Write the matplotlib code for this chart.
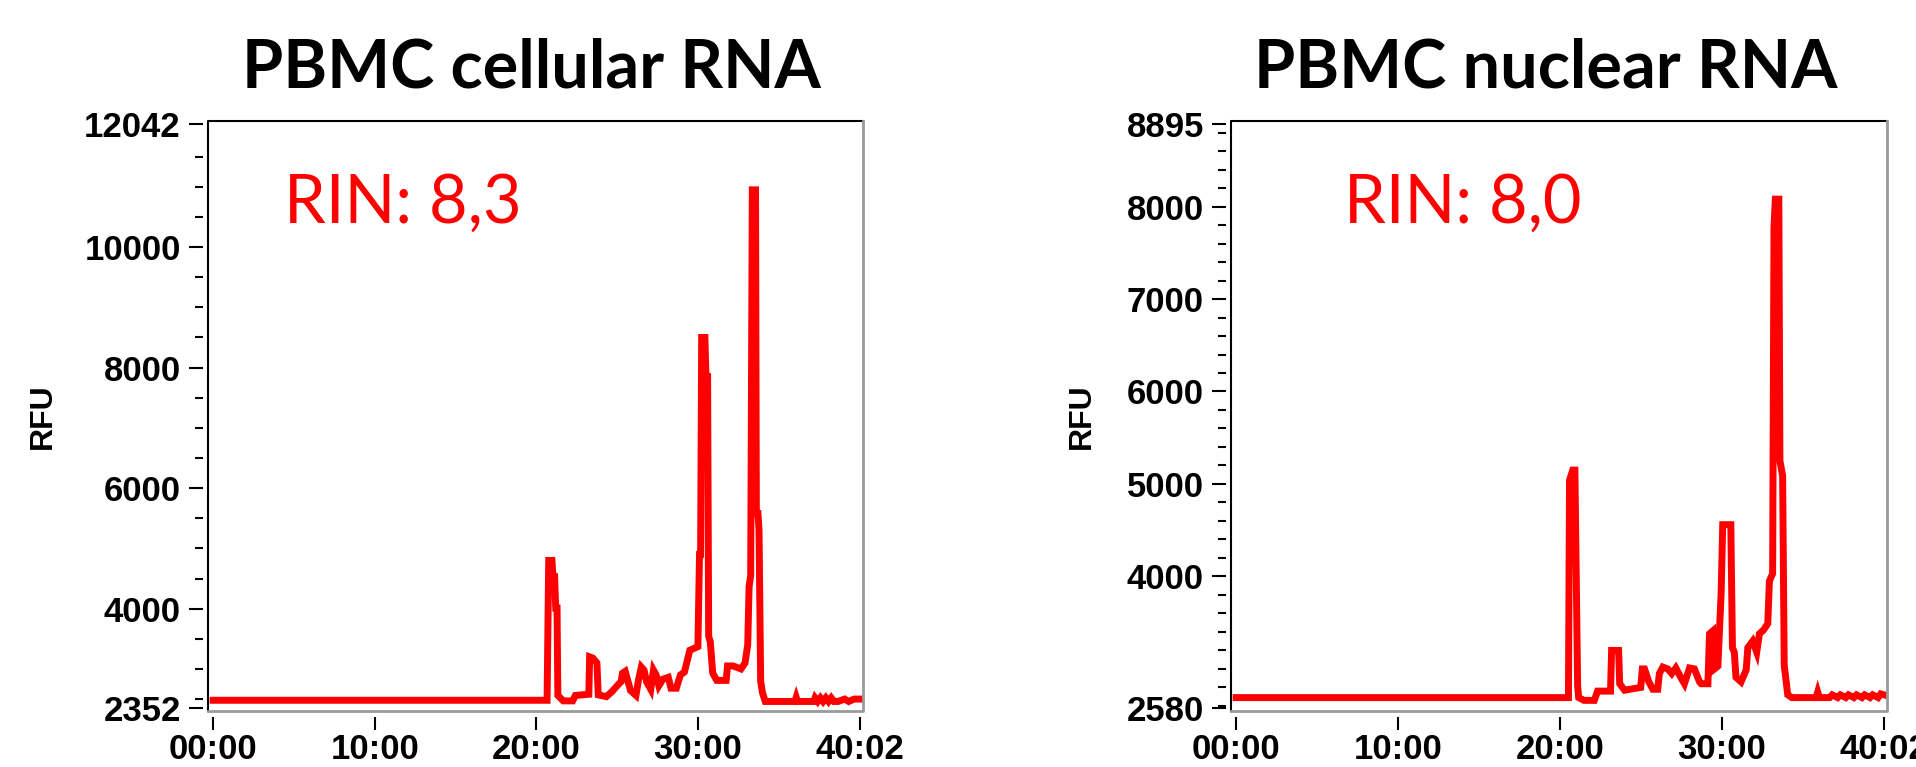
import matplotlib
matplotlib.use('Agg')
import matplotlib.pyplot as plt
from matplotlib.ticker import FixedLocator, FixedFormatter

# Electropherogram traces (time in seconds, RFU)
cell_time = [0, 1240, 1246, 1258, 1262, 1268, 1272, 1277, 1280, 1300, 1335, 1345, 1395,
             1398, 1410, 1425, 1430, 1460, 1480, 1500, 1515, 1520, 1530, 1540, 1550,
             1570, 1580, 1590, 1600, 1610, 1625, 1635, 1645, 1655, 1670, 1690, 1700,
             1720, 1735, 1750, 1770, 1800, 1806, 1810, 1814, 1826, 1830, 1836, 1840,
             1846, 1855, 1870, 1905, 1910, 1930, 1960, 1975, 1985, 1990, 1996, 2002,
             2014, 2017, 2023, 2027, 2033, 2040, 2050, 2160, 2165, 2170, 2230, 2235,
             2245, 2255, 2265, 2275, 2285, 2295, 2305, 2320, 2345, 2360, 2380, 2402]
cell_rfu = [2480, 2480, 4800, 4800, 4530, 4530, 4010, 4010, 2560, 2470, 2470, 2560, 2580,
            3200, 3180, 3100, 2570, 2540, 2620, 2720, 2790, 2930, 2960, 2800, 2640,
            2560, 2830, 3030, 2980, 2780, 2660, 2980, 2900, 2720, 2830, 2860, 2680,
            2680, 2900, 2950, 3310, 3370, 4900, 4900, 8500, 8500, 7850, 7850, 3540,
            3450, 2930, 2810, 2810, 3050, 3050, 3000, 3100, 3400, 4360, 4550, 10950,
            10950, 5580, 5580, 5300, 2800, 2600, 2460, 2460, 2530, 2460, 2460, 2520,
            2460, 2520, 2460, 2520, 2460, 2520, 2460, 2460, 2500, 2460, 2500, 2500]

nuc_time = [0, 1232, 1236, 1248, 1256, 1266, 1270, 1290, 1328, 1340, 1388, 1392, 1418,
            1422, 1440, 1480, 1500, 1506, 1514, 1530, 1545, 1563, 1569, 1582, 1600,
            1615, 1630, 1650, 1662, 1681, 1699, 1718, 1724, 1749, 1755, 1767, 1773,
            1786, 1798, 1804, 1834, 1840, 1847, 1853, 1872, 1891, 1897, 1915, 1930,
            1940, 1955, 1971, 1977, 1989, 1994, 1999, 2012, 2016, 2026, 2032, 2045,
            2060, 2150, 2156, 2162, 2200, 2210, 2230, 2240, 2260, 2270, 2290, 2300,
            2320, 2330, 2350, 2360, 2380, 2390, 2402]
nuc_rfu = [2690, 2690, 5040, 5150, 5150, 2820, 2690, 2660, 2660, 2760, 2760, 3200, 3200,
           2840, 2770, 2790, 2800, 3000, 3000, 2860, 2780, 2780, 2950, 3020, 3000,
           2950, 3010, 2900, 2840, 3010, 3000, 2860, 2840, 2840, 3380, 3410, 3000,
           3030, 3810, 4560, 4560, 3230, 3180, 2910, 2860, 2990, 3230, 3300, 3180,
           3380, 3420, 3490, 3950, 4030, 7770, 8080, 8080, 5250, 5090, 3040, 2720,
           2690, 2690, 2750, 2690, 2690, 2720, 2690, 2720, 2690, 2720, 2690, 2720,
           2690, 2720, 2690, 2720, 2690, 2730, 2720]

cell_yticks = [2352, 4000, 6000, 8000, 10000, 12042]
cell_yminor = [2500, 3000, 3500, 4500, 5000, 5500, 6500, 7000, 7500, 8500, 9000, 9500,
               10500, 11000, 11500]
nuc_yticks = [2580, 4000, 5000, 6000, 7000, 8000, 8895]
nuc_yminor = [v for v in range(2600, 8900, 200) if v not in (4000, 6000, 8000)]

x_ticks = [0, 600, 1200, 1800, 2402]
x_labels = ['00:00', '10:00', '20:00', '30:00', '40:02']

titles = ['PBMC cellular RNA', 'PBMC nuclear RNA']
rin_labels = ['RIN: 8,3', 'RIN: 8,0']

W, H = 1916, 767
fig = plt.figure(figsize=(W / 100, H / 100), dpi=100)

tick_font = dict(family='Liberation Sans', weight='bold', size=25)

panels = [
    dict(box=(208, 121, 863, 711), t=cell_time, v=cell_rfu, yt=cell_yticks, ym=cell_yminor,
         ylim=(2302, 12092), title_x=531, rin_x=284, rfu_x=43),
    dict(box=(1231, 121, 1887, 711), t=nuc_time, v=nuc_rfu, yt=nuc_yticks, ym=nuc_yminor,
         ylim=(2545, 8925), title_x=1546, rin_x=1344, rfu_x=1082),
]

for i, p in enumerate(panels):
    x0, y0, x1, y1 = p['box']
    ax = fig.add_axes([x0 / W, 1 - y1 / H, (x1 - x0) / W, (y1 - y0) / H])
    ax.plot(p['t'], p['v'], color='#ff0000', lw=5, solid_joinstyle='miter')
    ax.set_xlim(-19, 2413)
    ax.set_ylim(*p['ylim'])

    # detached ticks: offset invisible spines, draw the frame by hand
    for side in ['left', 'bottom', 'right', 'top']:
        ax.spines[side].set_visible(False)
    ax.spines['left'].set_position(('outward', 3.6))
    ax.spines['bottom'].set_position(('outward', 4.3))
    ax.plot([0, 0, 1], [0, 1, 1], color='black', lw=1.5, transform=ax.transAxes, clip_on=False)
    ax.plot([0, 1, 1], [0, 0, 1], color='#9a9a9a', lw=2.0, transform=ax.transAxes, clip_on=False)

    ax.yaxis.set_major_locator(FixedLocator(p['yt']))
    ax.yaxis.set_major_formatter(FixedFormatter([str(v) for v in p['yt']]))
    ax.yaxis.set_minor_locator(FixedLocator(p['ym']))
    ax.xaxis.set_major_locator(FixedLocator(x_ticks))
    ax.xaxis.set_major_formatter(FixedFormatter(x_labels))
    ax.tick_params(axis='y', which='major', direction='out', length=10, width=1.5, pad=6)
    ax.tick_params(axis='y', which='minor', direction='out', length=5.5, width=1.5)
    ax.tick_params(axis='x', which='major', direction='out', length=9.5, width=1.5, pad=2)
    for lab in ax.get_xticklabels() + ax.get_yticklabels():
        lab.set_fontproperties(tick_font)

    fig.text(p['title_x'] / W, 1 - 88 / H, titles[i], ha='center', va='baseline',
             family='Lato', weight='bold', fontsize=48)
    fig.text(p['rin_x'] / W, 1 - 223 / H, rin_labels[i], ha='left', va='baseline',
             family='Lato', color='#ff0000', fontsize=48)
    fig.text(p['rfu_x'] / W, 1 - 416 / H, 'RFU', ha='center', va='center', rotation=90,
             family='Liberation Sans', weight='bold', fontsize=23)

fig.savefig('out.png', dpi=100, facecolor='white')
